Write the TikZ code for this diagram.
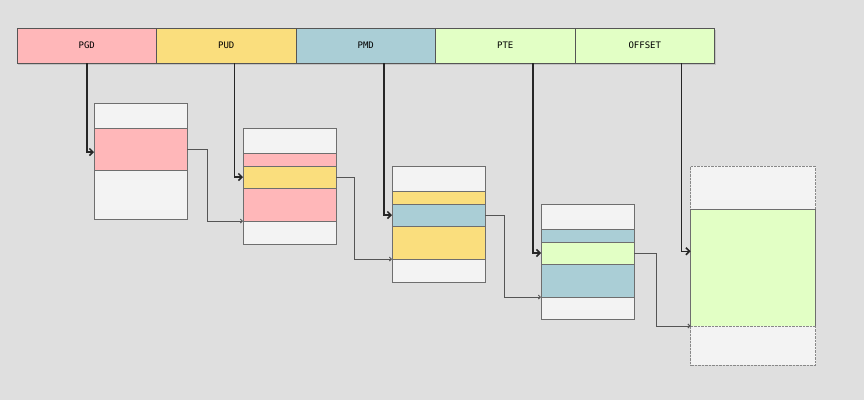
\documentclass[tikz,border=0pt]{standalone}
\usepackage{fontspec}
\setmonofont{DejaVu Sans Mono}
\usetikzlibrary{arrows.meta,positioning,shadows}
\definecolor{bgcolor}{RGB}{223,223,223}
\definecolor{pgdcolor}{RGB}{255,183,185}
\definecolor{pudcolor}{RGB}{250,222,125}
\definecolor{pmdcolor}{RGB}{170,206,214}
\definecolor{ptecolor}{RGB}{226,255,197}
\definecolor{cellcolor}{RGB}{243,243,243}
\definecolor{edgecolor}{RGB}{85,85,85}

\begin{document}
\begin{tikzpicture}[
    x=1pt, y=-1pt,
    field/.style={rectangle, draw=edgecolor, minimum width=139.5pt, minimum height=35pt, inner sep=0pt, outer sep=0pt,
        font=\ttfamily\fontsize{9}{10}\selectfont, drop shadow={shadow xshift=1pt, shadow yshift=-1.5pt, opacity=0.3}},
    cell/.style={rectangle, draw=edgecolor!85, fill=cellcolor, minimum width=93pt, inner sep=0pt, outer sep=0pt, anchor=north},
    index/.style={-{Straight Barb[length=3.5pt,width=7pt]}, line width=1.5pt, draw=black!85},
    link/.style={-{Straight Barb[length=2pt,width=4pt]}, line width=0.9pt, draw=edgecolor}
]
\fill[bgcolor] (0,0) rectangle (864,400);
\useasboundingbox (0,0) rectangle (864,400);

% virtual address fields
\node[field, fill=pgdcolor, anchor=north west] (pgd) at (17,28) {PGD};
\node[field, fill=pudcolor, right=0pt of pgd] (pud) {PUD};
\node[field, fill=pmdcolor, right=0pt of pud] (pmd) {PMD};
\node[field, fill=ptecolor, right=0pt of pmd] (pte) {PTE};
\node[field, fill=ptecolor, right=0pt of pte] (offset) {OFFSET};

% page global directory
\node[cell, minimum height=25pt] (t1a) at (140.5,103) {};
\node[cell, minimum height=42pt, fill=pgdcolor, below=0pt of t1a] (t1b) {};
\node[cell, minimum height=49pt, below=0pt of t1b] (t1c) {};

% page upper directory
\node[cell, minimum height=25pt] (t2a) at (289.5,128) {};
\node[cell, minimum height=13pt, fill=pgdcolor, below=0pt of t2a] (t2b) {};
\node[cell, minimum height=22pt, fill=pudcolor, below=0pt of t2b] (t2c) {};
\node[cell, minimum height=33pt, fill=pgdcolor, below=0pt of t2c] (t2d) {};
\node[cell, minimum height=23pt, below=0pt of t2d] (t2e) {};

% page middle directory
\node[cell, minimum height=25pt] (t3a) at (438.5,166) {};
\node[cell, minimum height=13pt, fill=pudcolor, below=0pt of t3a] (t3b) {};
\node[cell, minimum height=22pt, fill=pmdcolor, below=0pt of t3b] (t3c) {};
\node[cell, minimum height=33pt, fill=pudcolor, below=0pt of t3c] (t3d) {};
\node[cell, minimum height=23pt, below=0pt of t3d] (t3e) {};

% page table
\node[cell, minimum height=25pt] (t4a) at (587.5,204) {};
\node[cell, minimum height=13pt, fill=pmdcolor, below=0pt of t4a] (t4b) {};
\node[cell, minimum height=22pt, fill=ptecolor, below=0pt of t4b] (t4c) {};
\node[cell, minimum height=33pt, fill=pmdcolor, below=0pt of t4c] (t4d) {};
\node[cell, minimum height=22pt, below=0pt of t4d] (t4e) {};

% physical page
\node[cell, minimum width=125pt, minimum height=43.5pt, draw=edgecolor!70, densely dotted] (t5a) at (753,166) {};
\node[cell, minimum width=125pt, minimum height=116.5pt, fill=ptecolor, below=0pt of t5a] (t5b) {};
\node[cell, minimum width=125pt, minimum height=39pt, draw=edgecolor!70, densely dotted, below=0pt of t5b] (t5c) {};

% index arrows
\draw[index] (pgd.south) |- ([yshift=-3pt]t1b.west);
\draw[index] ([xshift=8pt]pud.south) |- (t2c.west);
\draw[index] ([xshift=18pt]pmd.south) |- (t3c.west);
\draw[index] ([xshift=27.5pt]pte.south) |- (t4c.west);
\draw[index] ([xshift=36.5pt]offset.south) |- ([yshift=16.5pt]t5b.west);

% base links
\draw[link] (t1b.east) -- ++(20,0) |- (t2e.north west);
\draw[link] (t2c.east) -- ++(18,0) |- (t3e.north west);
\draw[link] (t3c.east) -- ++(19,0) |- (t4e.north west);
\draw[link] (t4c.east) -- ++(22,0) |- (t5c.north west);
\end{tikzpicture}
\end{document}
